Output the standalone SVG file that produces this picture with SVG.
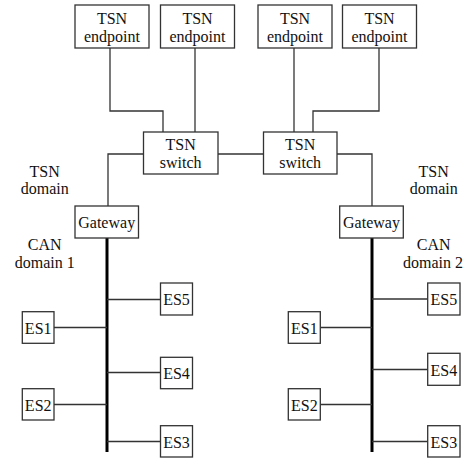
<svg xmlns="http://www.w3.org/2000/svg" width="466" height="459" viewBox="0 0 466 459">
<style>
.box{fill:#fff;stroke:#333;stroke-width:1.3}
.ln{fill:none;stroke:#333;stroke-width:1.3}
.bus{fill:none;stroke:#000;stroke-width:3}
text{font-family:'Liberation Serif','Times New Roman',serif;font-size:16px;fill:#111;text-anchor:middle}
</style>
<rect width="466" height="459" fill="#fff"/>
<g id="connectors">
<polyline class="ln" points="110,48 110,111 163,111 163,132"/>
<line class="ln" x1="195" y1="48" x2="195" y2="132"/>
<line class="ln" x1="294" y1="48" x2="294" y2="132"/>
<polyline class="ln" points="379,48 379,111 313,111 313,132"/>
<line class="ln" x1="218" y1="154" x2="263.5" y2="154"/>
<polyline class="ln" points="143.5,154 108,154 108,206"/>
<polyline class="ln" points="337,154 372,154 372,206"/>
<line class="bus" x1="107" y1="238" x2="107" y2="452"/>
<line class="bus" x1="372" y1="238" x2="372" y2="452"/>
<line class="ln" x1="107" y1="299.5" x2="160.5" y2="299.5"/>
<line class="ln" x1="54" y1="327.5" x2="107" y2="327.5"/>
<line class="ln" x1="107" y1="372.5" x2="160.5" y2="372.5"/>
<line class="ln" x1="54" y1="404.5" x2="107" y2="404.5"/>
<line class="ln" x1="107" y1="441.5" x2="160.5" y2="441.5"/>
<line class="ln" x1="372" y1="299" x2="427.5" y2="299"/>
<line class="ln" x1="320.5" y1="327.5" x2="372" y2="327.5"/>
<line class="ln" x1="372" y1="369.5" x2="427.5" y2="369.5"/>
<line class="ln" x1="320.5" y1="404.5" x2="372" y2="404.5"/>
<line class="ln" x1="372" y1="441.5" x2="427.5" y2="441.5"/>
</g>
<g id="ep1"><rect class="box" x="75" y="5" width="74" height="43"/><text x="112" y="23.5">TSN</text><text x="112" y="41.5">endpoint</text></g>
<g id="ep2"><rect class="box" x="160.5" y="5" width="74" height="43"/><text x="197.5" y="23.5">TSN</text><text x="197.5" y="41.5">endpoint</text></g>
<g id="ep3"><rect class="box" x="258" y="5" width="74" height="43"/><text x="295" y="23.5">TSN</text><text x="295" y="41.5">endpoint</text></g>
<g id="ep4"><rect class="box" x="342.5" y="5" width="74" height="43"/><text x="379.5" y="23.5">TSN</text><text x="379.5" y="41.5">endpoint</text></g>
<g id="sw1"><rect class="box" x="143.5" y="132" width="74.5" height="42"/><text x="180.7" y="150">TSN</text><text x="180.7" y="168">switch</text></g>
<g id="sw2"><rect class="box" x="263.5" y="132" width="73.5" height="42"/><text x="300.2" y="150">TSN</text><text x="300.2" y="168">switch</text></g>
<g id="gw1"><rect class="box" x="75" y="206" width="63.5" height="32"/><text x="106.7" y="227.5">Gateway</text></g>
<g id="gw2"><rect class="box" x="339.7" y="206" width="63.6" height="32"/><text x="371.5" y="227.5">Gateway</text></g>
<g id="l_es5"><rect class="box" x="160.5" y="283" width="32" height="32"/><text x="176.5" y="305">ES5</text></g>
<g id="l_es1"><rect class="box" x="22.3" y="311.7" width="31.7" height="31.6"/><text x="38.2" y="333.5">ES1</text></g>
<g id="l_es4"><rect class="box" x="160.5" y="357.3" width="32" height="31.4"/><text x="176.5" y="379">ES4</text></g>
<g id="l_es2"><rect class="box" x="22.3" y="388.7" width="31.7" height="31.3"/><text x="38.2" y="410.5">ES2</text></g>
<g id="l_es3"><rect class="box" x="160.5" y="425.7" width="32" height="31.3"/><text x="176.5" y="447.5">ES3</text></g>
<g id="r_es5"><rect class="box" x="427.7" y="283" width="32.3" height="32"/><text x="443.8" y="305">ES5</text></g>
<g id="r_es1"><rect class="box" x="288.3" y="311.7" width="32" height="31.6"/><text x="304.3" y="333.5">ES1</text></g>
<g id="r_es4"><rect class="box" x="427.7" y="353.3" width="32.3" height="32"/><text x="443.8" y="375.5">ES4</text></g>
<g id="r_es2"><rect class="box" x="288.3" y="388.7" width="32" height="31.3"/><text x="304.3" y="410.5">ES2</text></g>
<g id="r_es3"><rect class="box" x="427.7" y="425.7" width="32.3" height="31.3"/><text x="443.8" y="447.5">ES3</text></g>
<g id="labels">
<text x="44.7" y="176.5">TSN</text><text x="44.7" y="194">domain</text>
<text x="44.7" y="250">CAN</text><text x="44.7" y="268">domain 1</text>
<text x="433.7" y="176.5">TSN</text><text x="433.7" y="194">domain</text>
<text x="433.7" y="250">CAN</text><text x="433" y="268">domain 2</text>
</g>
</svg>
